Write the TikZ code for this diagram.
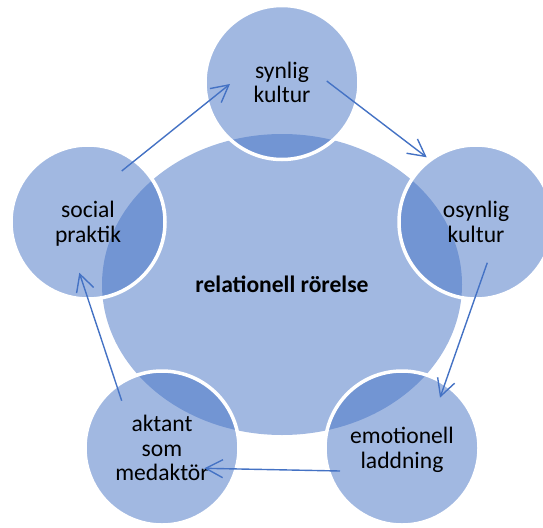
\documentclass[tikz,border=0pt]{standalone}
\usepackage{fontspec}
\setmainfont{Carlito}
\usetikzlibrary{arrows.meta,shapes.geometric}
\definecolor{accent}{RGB}{68,114,196}
\begin{document}
\begin{tikzpicture}[x=1pt,y=-1pt,
  centre/.style={ellipse, minimum width=360pt, minimum height=301pt, inner sep=0pt,
    fill=accent, fill opacity=0.5, text opacity=1, text=black, text depth=0pt,
    font=\fontsize{23.6}{24}\selectfont\bfseries},
  outer/.style={circle, minimum size=154pt, inner sep=0pt, fill=accent, fill opacity=0.5,
    text opacity=1, draw=white, line width=3.5pt, align=center, text=black, text depth=0pt,
    font=\fontsize{23.6}{24.5}\selectfont},
  flow/.style={draw=accent, line width=1.4pt, -{Straight Barb[length=17pt,width=18pt]}}]
\useasboundingbox (0,0) rectangle (543,527);
\node[centre] (c) at (282,284.5) {relationell rörelse};
\node[outer] (syn) at (282,82.5) {synlig\\kultur};
\node[outer] (osyn) at (476,222) {osynlig\\kultur};
\node[outer] (emo) at (402,448) {emotionell\\laddning};
\node[outer] (akt) at (162,448) {aktant\\som\\medaktör};
\node[outer] (soc) at (88,222) {social\\praktik};
\coordinate (a1s) at (121.7,171);
\coordinate (a1e) at (230,84);
\coordinate (a2s) at (326.7,81);
\coordinate (a2e) at (426.7,157.3);
\coordinate (a3s) at (487.3,262.7);
\coordinate (a3e) at (440,397.7);
\coordinate (a4s) at (340,471);
\coordinate (a4e) at (204.3,468.3);
\coordinate (a5s) at (121.7,400.7);
\coordinate (a5e) at (79.3,272.7);
\draw[flow] (a1s) -- (a1e);
\draw[flow] (a2s) -- (a2e);
\draw[flow] (a3s) -- (a3e);
\draw[flow] (a4s) -- (a4e);
\draw[flow] (a5s) -- (a5e);
\end{tikzpicture}
\end{document}
